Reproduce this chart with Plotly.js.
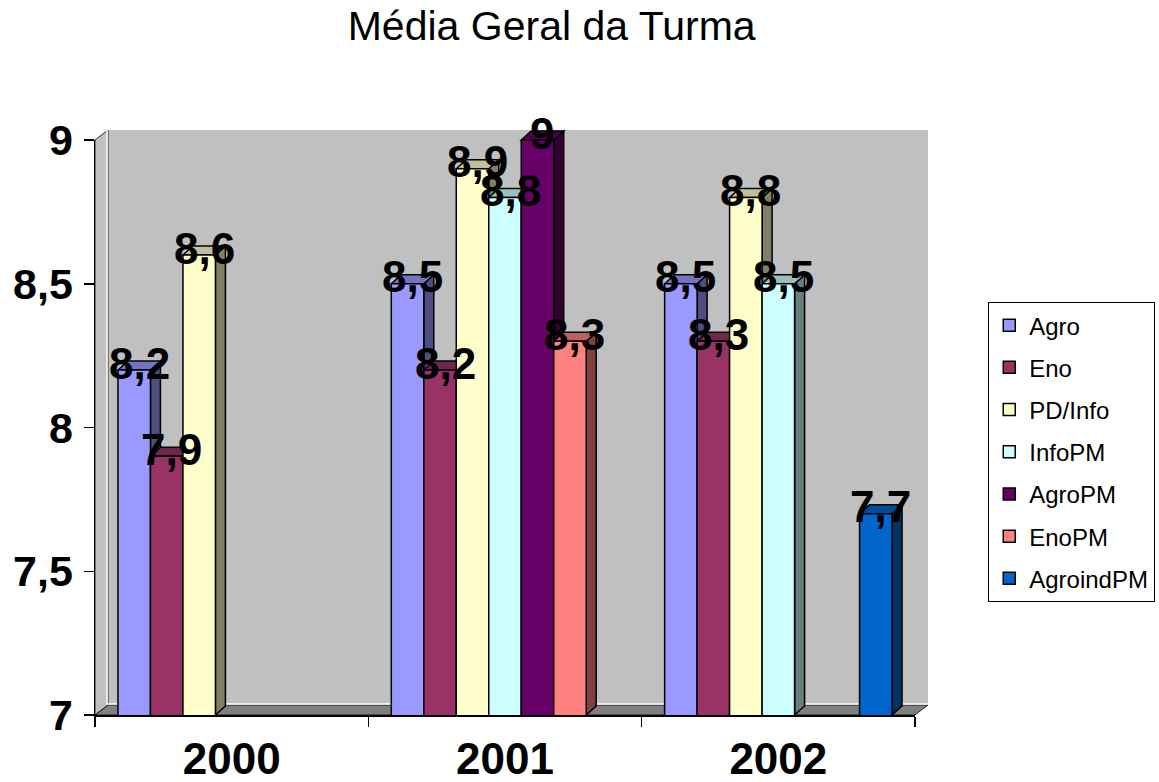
<!DOCTYPE html>
<html><head><meta charset="utf-8">
<script src="https://cdn.plot.ly/plotly-3.0.1.min.js"></script>
<style>html,body{margin:0;padding:0;background:#fff}#chart{width:1159px;height:782px}</style>
</head><body><div id="chart"></div>
<script>
// ---- data ----
const categories = ['2000', '2001', '2002'];
const seriesNames = ['Agro', 'Eno', 'PD/Info', 'InfoPM', 'AgroPM', 'EnoPM', 'AgroindPM'];
const agro      = [8.2, 8.5, 8.5];
const eno       = [7.9, 8.2, 8.3];
const pdInfo    = [8.6, 8.9, 8.8];
const infoPM    = [null, 8.8, 8.5];
const agroPM    = [null, 9, null];
const enoPM     = [null, 8.3, null];
const agroindPM = [null, null, 7.7];
const seriesValues = [agro, eno, pdInfo, infoPM, agroPM, enoPM, agroindPM];
const yTickVals = [7, 7.5, 8, 8.5, 9];
const yTickText = ['7', '7,5', '8', '8,5', '9'];

// ---- style ----
const colors = ['#9999FF', '#993366', '#FFFFCC', '#CCFFFF', '#660066', '#FF8080', '#0066CC'];
const FONT = '"Liberation Sans", Arial, sans-serif';
const BARGAP = 0.168;
const DX = 10, DY = 9;     // bar depth (px)
const WDX = 13, WDY = 10;  // wall depth (px)
const nS = seriesNames.length;
const slotW = (1 - BARGAP) / nS;

function fmt(v) { return String(v).replace('.', ','); }
function shade(hex, f) {
  const n = parseInt(hex.slice(1), 16);
  const r = Math.round(((n >> 16) & 255) * f), g = Math.round(((n >> 8) & 255) * f), b = Math.round((n & 255) * f);
  return 'rgb(' + r + ',' + g + ',' + b + ')';
}

const traces = seriesNames.map((name, j) => ({
  type: 'bar', name: name, x: categories, y: seriesValues[j],
  legendgroup: name,
  marker: { color: colors[j], line: { color: '#000', width: 1.5 } },
  hoverinfo: 'skip', cliponaxis: true
}));

const annotations = [];
seriesValues.forEach((vals, j) => {
  vals.forEach((v, i) => {
    if (v === null) return;
    annotations.push({
      xref: 'x', yref: 'y', x: i + (j - (nS - 1) / 2) * slotW, y: v,
      text: fmt(v), showarrow: false, xanchor: 'center', yanchor: 'middle',
      xshift: 5, yshift: 7,
      font: { family: FONT, size: 44, color: '#000', weight: 700 }
    });
  });
});

const layout = {
  width: 1159, height: 782,
  margin: { l: 95, r: 244, t: 140, b: 67, pad: 0, autoexpand: false },
  paper_bgcolor: '#fff', plot_bgcolor: 'rgba(0,0,0,0)',
  barmode: 'group', bargap: BARGAP, bargroupgap: 0,
  separators: ',.',
  title: { text: 'Média Geral da Turma', x: 0.476, xref: 'container', xanchor: 'center',
           y: 0.967, yref: 'container', yanchor: 'middle',
           font: { family: FONT, size: 41, color: '#000' } },
  xaxis: {
    type: 'category', tickson: 'boundaries', ticks: 'outside', ticklen: 10, tickwidth: 1.5, tickcolor: '#000',
    showline: true, linecolor: '#000', linewidth: 1.5, showgrid: false, zeroline: false,
    tickfont: { family: FONT, size: 44, color: '#000', weight: 700 }, ticklabelstandoff: 5
  },
  yaxis: {
    range: [7, 9], tickmode: 'array', tickvals: yTickVals, ticktext: yTickText,
    ticks: 'outside', ticklen: 10, tickwidth: 1.5, tickcolor: '#000',
    showline: true, linecolor: '#000', linewidth: 1.5, showgrid: false, zeroline: false,
    tickfont: { family: FONT, size: 43, color: '#000', weight: 700 }, ticklabelstandoff: 2
  },
  legend: {
    x: 0.8525, y: 0.614, xanchor: 'left', yanchor: 'top', xref: 'container', yref: 'container',
    bordercolor: '#000', borderwidth: 1.2, bgcolor: '#fff',
    font: { family: FONT, size: 24, color: '#000' },
    traceorder: 'grouped', tracegroupgap: 8
  },
  annotations: annotations,
  showlegend: true
};

const gd = document.getElementById('chart');
Plotly.newPlot(gd, traces, layout, { staticPlot: true }).then(() => {
  const xa = gd._fullLayout.xaxis, ya = gd._fullLayout.yaxis;
  const X = px => (px - xa._offset) / xa._length;
  const Y = py => (ya._offset + ya._length - py) / ya._length;
  const P = pts => 'M' + pts.map(p => X(p[0]).toFixed(5) + ',' + Y(p[1]).toFixed(5)).join(' L') + ' Z';
  const l = xa._offset, r = xa._offset + xa._length, t = ya._offset, b = ya._offset + ya._length;
  const shapes = [];
  // back wall
  shapes.push({ type: 'path', xref: 'paper', yref: 'paper', layer: 'below',
    path: P([[l + WDX, t - WDY], [r + WDX, t - WDY], [r + WDX, b - WDY], [l + WDX, b - WDY]]),
    fillcolor: '#C0C0C0', line: { width: 0 } });
  // left wall
  shapes.push({ type: 'path', xref: 'paper', yref: 'paper', layer: 'below',
    path: P([[l, t], [l + WDX, t - WDY], [l + WDX, b - WDY], [l, b]]),
    fillcolor: '#C0C0C0', line: { color: '#000', width: 0.8 } });
  // floor
  shapes.push({ type: 'path', xref: 'paper', yref: 'paper', layer: 'below',
    path: P([[l, b], [l + WDX, b - WDY], [r + WDX, b - WDY], [r, b]]),
    fillcolor: '#808080', line: { color: '#000', width: 0.8 } });
  // white back edges
  shapes.push({ type: 'path', xref: 'paper', yref: 'paper', layer: 'below',
    path: 'M' + X(l + WDX - 1) + ',' + Y(t - WDY) + ' L' + X(l + WDX - 1) + ',' + Y(b - WDY - 1) + ' L' + X(r + WDX) + ',' + Y(b - WDY - 1),
    line: { color: '#fff', width: 1.5 } });
  // bar side and top faces
  seriesValues.forEach((vals, j) => {
    vals.forEach((v, i) => {
      if (v === null) return;
      const c = i + (j - (nS - 1) / 2) * slotW;
      const L = xa._offset + xa.l2p(c - slotW / 2), R = xa._offset + xa.l2p(c + slotW / 2);
      const T = ya._offset + ya.l2p(v), B = ya._offset + ya.l2p(7);
      shapes.push({ type: 'path', xref: 'paper', yref: 'paper', layer: 'below',
        path: P([[R, B], [R + DX, B - DY], [R + DX, T - DY], [R, T]]),
        fillcolor: shade(colors[j], 0.5), line: { color: '#000', width: 1.5 } });
      shapes.push({ type: 'path', xref: 'paper', yref: 'paper', layer: 'below',
        path: P([[L, T], [L + DX, T - DY], [R + DX, T - DY], [R, T]]),
        fillcolor: shade(colors[j], 0.75), line: { color: '#000', width: 1.5 } });
    });
  });
  return Plotly.relayout(gd, { shapes: shapes });
});
</script>
</body></html>
